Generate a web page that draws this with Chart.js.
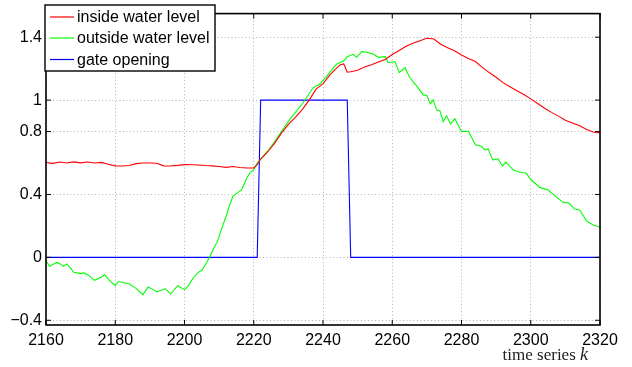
<!DOCTYPE html>
<html>
<head>
<meta charset="utf-8">
<script src="https://cdn.jsdelivr.net/npm/chart.js@4.4.1/dist/chart.umd.min.js"></script>
<style>
  html, body { margin: 0; padding: 0; background: #fff; }
  #wrap { width: 632px; height: 367px; }
</style>
</head>
<body>
<div id="wrap"><canvas id="chart" width="632" height="367"></canvas></div>
<script>
// series
const insideK = [2160, 2162, 2164, 2166, 2168, 2170, 2172, 2174, 2176, 2178, 2180, 2182, 2184, 2186, 2188, 2190, 2192, 2194, 2196, 2198,
  2200, 2202, 2204, 2206, 2208, 2210, 2212, 2214, 2216, 2218, 2220, 2221, 2222, 2224, 2226, 2228, 2230, 2232, 2234, 2236,
  2238, 2240, 2242, 2244, 2245, 2246, 2247, 2248, 2250, 2252, 2254, 2256, 2258, 2260, 2262, 2264, 2266, 2268, 2270, 2272,
  2274, 2276, 2278, 2280, 2282, 2284, 2286, 2288, 2290, 2292, 2294, 2296, 2298, 2300, 2302, 2304, 2306, 2308, 2310, 2312,
  2314, 2316, 2318, 2319, 2320];
const insideLevel = [0.603, 0.598, 0.606, 0.600, 0.607, 0.601, 0.606, 0.600, 0.604, 0.592, 0.582, 0.581, 0.584, 0.596, 0.600, 0.600, 0.598, 0.582, 0.581, 0.585,
  0.590, 0.589, 0.587, 0.584, 0.582, 0.578, 0.572, 0.578, 0.571, 0.568, 0.569, 0.59, 0.625, 0.67, 0.725, 0.79, 0.845, 0.89, 0.94, 1.0,
  1.07, 1.105, 1.16, 1.205, 1.225, 1.23, 1.178, 1.18, 1.19, 1.21, 1.225, 1.242, 1.258, 1.29, 1.315, 1.342, 1.362, 1.378, 1.393, 1.388,
  1.355, 1.333, 1.314, 1.287, 1.265, 1.245, 1.208, 1.175, 1.145, 1.111, 1.085, 1.06, 1.035, 1.008, 0.978, 0.948, 0.922, 0.898, 0.872, 0.855,
  0.838, 0.815, 0.797, 0.792, 0.795];

const outsideK = [2160, 2161, 2162, 2163, 2164, 2165, 2166, 2167, 2168, 2170, 2171, 2172, 2174, 2176, 2177, 2178, 2180, 2181, 2182, 2184,
  2186, 2188, 2189.5, 2191, 2192, 2193, 2194.5, 2196, 2198, 2200, 2201, 2202.5, 2204, 2205, 2206, 2207.3, 2208.5, 2209.5, 2211, 2212,
  2213, 2214, 2215.5, 2216.5, 2218, 2219, 2220, 2221, 2222, 2224, 2226, 2228, 2230, 2232, 2234, 2236, 2237, 2238, 2239, 2241,
  2243, 2244, 2246, 2247, 2248.7, 2249.7, 2251.2, 2252.6, 2254.5, 2256, 2258, 2258.8, 2260.8, 2262, 2263.7, 2265, 2267, 2269, 2270, 2271,
  2271.8, 2272.8, 2273.8, 2274.7, 2275.7, 2276.8, 2278.1, 2280, 2282, 2284, 2285.8, 2286.7, 2287.7, 2289, 2290.6, 2291.8, 2292.8, 2295, 2297, 2298.7,
  2300, 2302.6, 2305, 2307.4, 2309.3, 2311, 2312.7, 2314.2, 2316.1, 2318, 2320];
const outsideLevel = [-0.02, -0.057, -0.045, -0.032, -0.04, -0.057, -0.042, -0.065, -0.095, -0.103, -0.099, -0.11, -0.146, -0.125, -0.11, -0.14, -0.18, -0.152, -0.16, -0.168,
  -0.197, -0.237, -0.188, -0.205, -0.22, -0.21, -0.2, -0.233, -0.18, -0.205, -0.184, -0.131, -0.095, -0.082, -0.05, 0.006, 0.06, 0.1, 0.2, 0.26,
  0.33, 0.39, 0.413, 0.43, 0.505, 0.54, 0.558, 0.6, 0.625, 0.675, 0.735, 0.8, 0.865, 0.92, 0.975, 1.04, 1.075, 1.09, 1.1, 1.149,
  1.205, 1.23, 1.25, 1.276, 1.291, 1.272, 1.308, 1.304, 1.293, 1.272, 1.276, 1.238, 1.245, 1.175, 1.206, 1.145, 1.09, 1.033, 1.029, 0.976,
  1.001, 0.938, 0.931, 0.863, 0.9, 0.849, 0.881, 0.8, 0.802, 0.716, 0.706, 0.684, 0.69, 0.62, 0.625, 0.58, 0.606, 0.555, 0.54, 0.536,
  0.495, 0.445, 0.428, 0.385, 0.35, 0.345, 0.307, 0.3, 0.232, 0.206, 0.193];

const gateK = [2160, 2221, 2222, 2247, 2248, 2320];
const gateOpening = [0, 0, 1, 1, 0, 0];

const seriesNames = ['inside water level', 'outside water level', 'gate opening'];
const seriesColors = ['#ff0000', '#00ff00', '#0000ff'];
const yTickValues = [-0.4, 0, 0.4, 0.8, 1, 1.4];
const xLabel = 'time series ';

function pts(ks, vs) {
  return ks.map((k, i) => ({ x: k, y: vs[i] }));
}

// frame, inner ticks, legend box and axis label (matlab look)
const decor = {
  id: 'decor',
  afterDraw(chart) {
    const ctx = chart.ctx;
    const a = chart.chartArea;
    const xs = chart.scales.x, ys = chart.scales.y;
    ctx.save();
    ctx.strokeStyle = '#000';
    ctx.lineWidth = 1.6;
    ctx.strokeRect(a.left, a.top, a.right - a.left, a.bottom - a.top);
    ctx.lineWidth = 1;
    ctx.beginPath();
    xs.ticks.forEach(t => {
      const px = xs.getPixelForValue(t.value);
      ctx.moveTo(px, a.top); ctx.lineTo(px, a.top + 5);
      ctx.moveTo(px, a.bottom); ctx.lineTo(px, a.bottom - 5);
    });
    ys.ticks.forEach(t => {
      const py = ys.getPixelForValue(t.value);
      ctx.moveTo(a.left, py); ctx.lineTo(a.left + 5, py);
      ctx.moveTo(a.right, py); ctx.lineTo(a.right - 5, py);
    });
    ctx.stroke();

    // legend
    ctx.fillStyle = '#fff';
    ctx.fillRect(45, 5, 170, 66);
    ctx.lineWidth = 1.4;
    ctx.strokeRect(45, 5, 170, 66);
    ctx.font = '16px "Liberation Sans", Arial, sans-serif';
    ctx.textBaseline = 'middle';
    const rows = [17, 38, 59.5];
    seriesNames.forEach((name, i) => {
      ctx.strokeStyle = seriesColors[i];
      ctx.lineWidth = 1.2;
      ctx.beginPath();
      ctx.moveTo(50, rows[i]); ctx.lineTo(74, rows[i]);
      ctx.stroke();
      ctx.fillStyle = '#000';
      ctx.fillText(name, 77, rows[i] + 1);
    });

    // x axis label
    ctx.textBaseline = 'alphabetic';
    ctx.fillStyle = '#222';
    ctx.font = 'italic 18px "Liberation Serif", serif';
    const kw = ctx.measureText('k').width;
    ctx.fillText('k', 588 - kw, 360);
    ctx.font = '17px "Liberation Serif", serif';
    ctx.textAlign = 'right';
    ctx.fillText(xLabel, 588 - kw, 360);
    ctx.restore();
  }
};

const ctx = document.getElementById('chart').getContext('2d');
new Chart(ctx, {
  type: 'line',
  data: {
    datasets: [
      { label: seriesNames[0], data: pts(insideK, insideLevel), borderColor: seriesColors[0] },
      { label: seriesNames[1], data: pts(outsideK, outsideLevel), borderColor: seriesColors[1] },
      { label: seriesNames[2], data: pts(gateK, gateOpening), borderColor: seriesColors[2] }
    ]
  },
  options: {
    responsive: false,
    animation: false,
    events: [],
    elements: {
      point: { radius: 0 },
      line: { borderWidth: 1.1, tension: 0, fill: false }
    },
    layout: { padding: { top: 13, right: 32, left: 0, bottom: 0 } },
    plugins: { legend: { display: false }, tooltip: { enabled: false } },
    scales: {
      x: {
        type: 'linear',
        min: 2160, max: 2320,
        afterFit(s) { s.height = 42; },
        ticks: {
          stepSize: 20, color: '#000', padding: 6,
          font: { family: '"Liberation Sans", Arial, sans-serif', size: 16 },
          callback: v => String(v)
        },
        grid: { color: '#b4b4b4', lineWidth: 1, drawTicks: false },
        border: { display: false, dash: [1, 2.5] }
      },
      y: {
        min: -0.43, max: 1.55,
        afterFit(s) { s.width = 46; },
        afterBuildTicks(s) { s.ticks = yTickValues.map(v => ({ value: v })); },
        ticks: {
          color: '#000', padding: 4,
          font: { family: '"Liberation Sans", Arial, sans-serif', size: 16 },
          callback: v => (v < 0 ? '\u2212' + String(-v) : String(v))
        },
        grid: { color: '#b4b4b4', lineWidth: 1, drawTicks: false },
        border: { display: false, dash: [1, 2.5] }
      }
    }
  },
  plugins: [decor]
});
</script>
</body>
</html>
